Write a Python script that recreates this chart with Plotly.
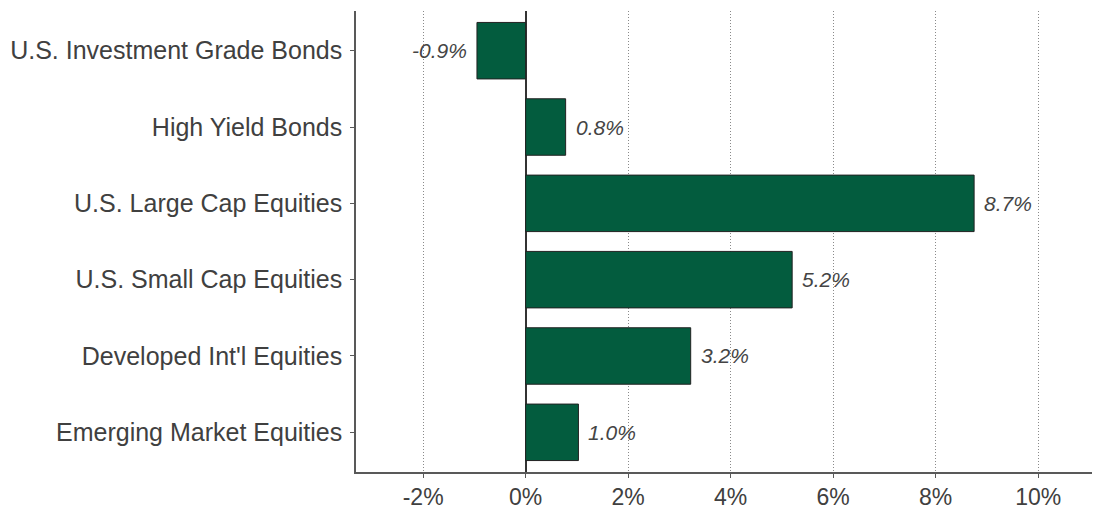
import plotly.graph_objects as go

categories = ["U.S. Investment Grade Bonds", "High Yield Bonds", "U.S. Large Cap Equities",
              "U.S. Small Cap Equities", "Developed Int'l Equities", "Emerging Market Equities"]
values = [-0.95, 0.78, 8.75, 5.2, 3.22, 1.03]
labels = ["-0.9%", "0.8%", "8.7%", "5.2%", "3.2%", "1.0%"]
tick_vals = [-2, 0, 2, 4, 6, 8, 10]
tick_text = ["-2%", "0%", "2%", "4%", "6%", "8%", "10%"]

fig = go.Figure()
fig.add_trace(go.Bar(
    y=categories, x=values, orientation="h",
    marker=dict(color="#035c3e", line=dict(color="#222222", width=1)),
    width=0.74, hoverinfo="skip",
))

for c, v, t in zip(categories, values, labels):
    fig.add_annotation(
        x=v, y=c, text=t, showarrow=False,
        xanchor="left" if v >= 0 else "right",
        xshift=8 if v >= 0 else -8,
        font=dict(family="Liberation Sans, Arial", size=21, color="#444444", style="italic"),
    )

fig.update_layout(
    width=1094, height=512,
    margin=dict(l=356, r=2, t=11, b=37),
    paper_bgcolor="white", plot_bgcolor="white",
    showlegend=False,
    font=dict(family="Liberation Sans, Arial", color="#404040"),
)
fig.update_xaxes(
    range=[-3.31, 11.05], tickvals=tick_vals, ticktext=tick_text,
    tickfont=dict(size=23, color="#404040"),
    showgrid=True, gridcolor="#8a8a8a", griddash="1px,2px", gridwidth=1,
    zeroline=True, zerolinecolor="#333333", zerolinewidth=2,
    showline=True, linecolor="#595959", linewidth=1.5,
    ticks="outside", ticklen=4, tickcolor="#595959",
)
fig.update_yaxes(
    categoryorder="array", categoryarray=categories, autorange=False,
    range=[5.52, -0.52],
    tickfont=dict(size=25, color="#404040"),
    showgrid=False, zeroline=False,
    showline=True, linecolor="#595959", linewidth=1.5,
    ticks="outside", ticklen=4, tickcolor="#595959",
    ticklabelstandoff=3,
)

fig.write_html("out.html")
